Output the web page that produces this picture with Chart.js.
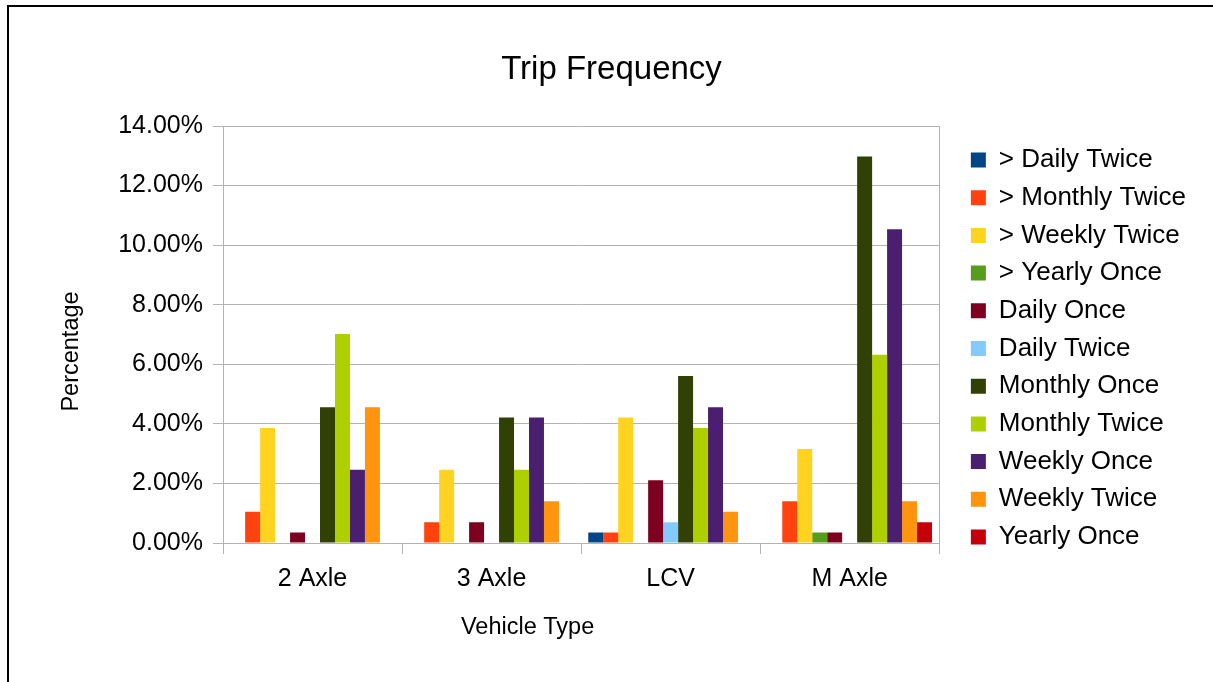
<!DOCTYPE html>
<html>
<head>
<meta charset="utf-8">
<title>Trip Frequency</title>
<script src="https://cdn.jsdelivr.net/npm/chart.js@4/dist/chart.umd.min.js"></script>
<style>
  html, body { margin: 0; padding: 0; background: #ffffff; overflow: hidden; }
  #frame {
    position: absolute; left: 7px; top: 5px;
    width: 1240px; height: 720px;
    border: 2px solid #000000;
    box-sizing: border-box;
  }
  #chart { position: absolute; left: 0; top: 0; }
</style>
</head>
<body>
<div id="frame"></div>
<canvas id="chart" width="1213" height="682"></canvas>
<script>
// Vehicle categories on the x axis
const vehicleTypes = ['2 Axle', '3 Axle', 'LCV', 'M Axle'];

// Share of trips (%) per frequency class, one value per vehicle type
const gtDailyTwice   = [0.00, 0.00, 0.35, 0.00];
const gtMonthlyTwice = [1.05, 0.70, 0.35, 1.40];
const gtWeeklyTwice  = [3.86, 2.46, 4.21, 3.16];
const gtYearlyOnce   = [0.00, 0.00, 0.00, 0.35];
const dailyOnce      = [0.35, 0.70, 2.11, 0.35];
const dailyTwice     = [0.00, 0.00, 0.70, 0.00];
const monthlyOnce    = [4.56, 4.21, 5.61, 12.98];
const monthlyTwice   = [7.02, 2.46, 3.86, 6.32];
const weeklyOnce     = [2.46, 4.21, 4.56, 10.53];
const weeklyTwice    = [4.56, 1.40, 1.05, 1.40];
const yearlyOnce     = [0.00, 0.00, 0.00, 0.70];

const seriesNames = [
  '> Daily Twice', '> Monthly Twice', '> Weekly Twice', '> Yearly Once',
  'Daily Once', 'Daily Twice', 'Monthly Once', 'Monthly Twice',
  'Weekly Once', 'Weekly Twice', 'Yearly Once'
];
const seriesValues = [
  gtDailyTwice, gtMonthlyTwice, gtWeeklyTwice, gtYearlyOnce,
  dailyOnce, dailyTwice, monthlyOnce, monthlyTwice,
  weeklyOnce, weeklyTwice, yearlyOnce
];
const seriesColors = [
  '#004586', '#ff420e', '#ffd320', '#579d1c',
  '#7e0021', '#83caff', '#314004', '#aecf00',
  '#4b1f6f', '#ff950e', '#c5000b'
];

// Y axis range and tick spacing (percent)
const yMin = 0;
const yMax = 14;
const yStep = 2;

const chartTitle = 'Trip Frequency';
const xAxisTitle = 'Vehicle Type';
const yAxisTitle = 'Percentage';

const FONT = '"Liberation Sans", Arial, sans-serif';
const GRID = '#b3b3b3';

// Axis titles are drawn by hand so they can sit off the plot-area centre
const axisTitles = {
  id: 'axisTitles',
  afterDraw(chart) {
    const { ctx, chartArea } = chart;
    const midX = (chartArea.left + chartArea.right) / 2;
    const midY = (chartArea.top + chartArea.bottom) / 2;
    ctx.save();
    ctx.fillStyle = '#000000';
    ctx.font = '23.5px ' + FONT;
    ctx.textAlign = 'center';
    ctx.textBaseline = 'middle';
    ctx.fillText(xAxisTitle, midX - 53.5, chartArea.bottom + 85);
    ctx.translate(72, midY + 17);
    ctx.rotate(-Math.PI / 2);
    ctx.fillText(yAxisTitle, 0, 0);
    ctx.restore();
  }
};

new Chart(document.getElementById('chart'), {
  type: 'bar',
  data: {
    labels: vehicleTypes,
    datasets: seriesNames.map((name, i) => ({
      label: name,
      data: seriesValues[i],
      backgroundColor: seriesColors[i],
      borderWidth: 0,
      categoryPercentage: 0.92,
      barPercentage: 1.0
    }))
  },
  options: {
    responsive: false,
    animation: false,
    devicePixelRatio: 1,
    layout: { padding: { left: 27, right: 17, top: 15, bottom: 0 } },
    plugins: {
      title: {
        display: true,
        text: chartTitle,
        color: '#000000',
        font: { family: FONT, size: 33, weight: 'normal' },
        padding: { top: 35, bottom: 36.4 }
      },
      legend: {
        display: true,
        position: 'right',
        align: 'center',
        maxWidth: 320,
        labels: {
          color: '#000000',
          font: { family: FONT, size: 26 },
          boxWidth: 15,
          boxHeight: 15,
          padding: 11.7
        }
      },
      tooltip: { enabled: false }
    },
    scales: {
      x: {
        grid: {
          display: true,
          offset: true,
          drawOnChartArea: false,
          drawTicks: true,
          tickLength: 11,
          color: GRID
        },
        border: { display: true, color: GRID },
        ticks: {
          color: '#000000',
          font: { family: FONT, size: 25 },
          padding: 10.5,
          maxRotation: 0
        },
        afterFit(scale) { scale.height = 139; }
      },
      y: {
        min: yMin,
        max: yMax,
        grid: { color: GRID, tickLength: 10, drawTicks: true },
        border: { display: true, color: GRID },
        ticks: {
          stepSize: yStep,
          color: '#000000',
          font: { family: FONT, size: 25 },
          padding: 10,
          callback: v => v.toFixed(2) + '%'
        },
        afterFit(scale) { scale.width = 196; }
      },
      // right-hand frame line of the plot area, also spacing before the legend
      yFrame: {
        position: 'right',
        min: yMin,
        max: yMax,
        grid: { display: false },
        border: { display: true, color: GRID },
        ticks: { display: false },
        afterFit(scale) { scale.width = 20; }
      }
    }
  },
  plugins: [axisTitles]
});
</script>
</body>
</html>
